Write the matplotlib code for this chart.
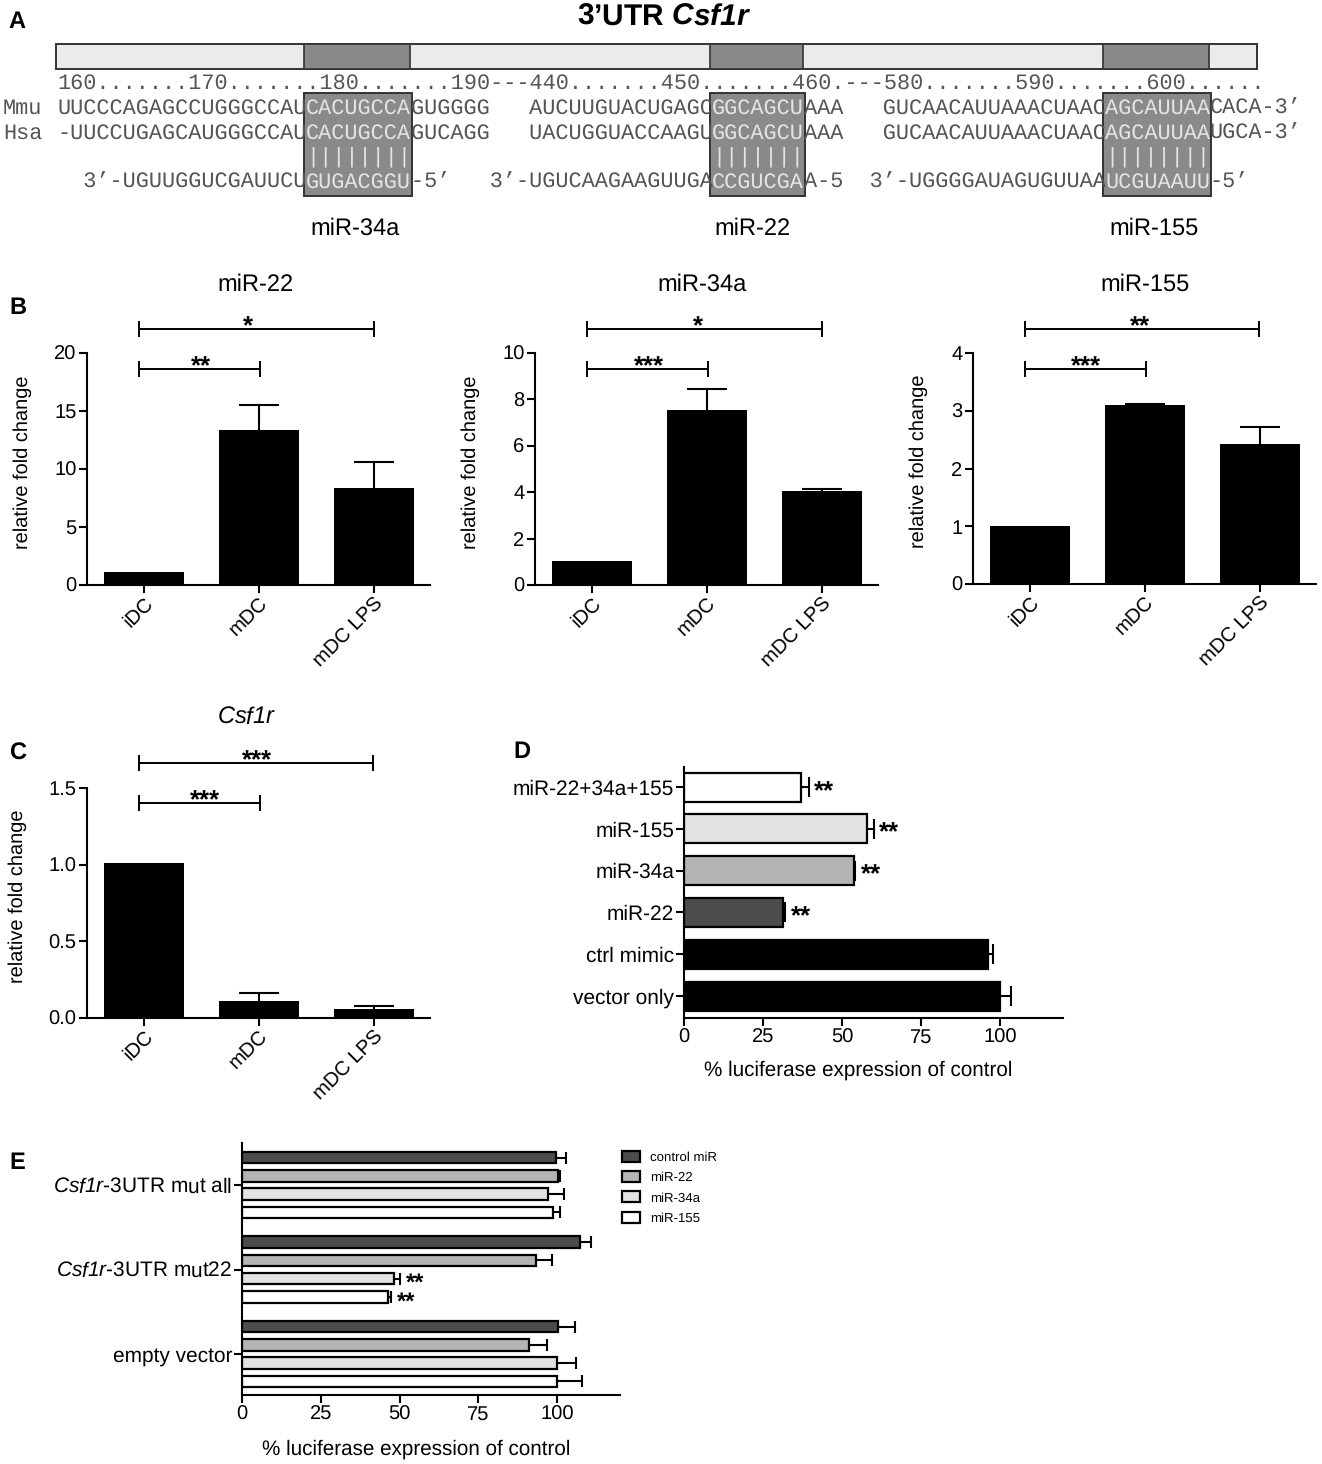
import numpy as np
import matplotlib
matplotlib.use("Agg")
import matplotlib.pyplot as plt
from matplotlib.patches import Rectangle, Patch

plt.rcParams['font.family'] = ['Liberation Sans', 'DejaVu Sans']
plt.rcParams['mathtext.fontset'] = 'custom'
# digits in \mathit fall back to rm, so rm is italic too (1 in Csf1r)
plt.rcParams['mathtext.rm'] = 'Liberation Sans:italic'
plt.rcParams['mathtext.it'] = 'Liberation Sans:italic'
plt.rcParams['mathtext.bf'] = 'Liberation Sans:bold'
plt.rcParams['mathtext.bfit'] = 'Liberation Sans:italic:bold'
plt.rcParams['text.hinting'] = 'none'

W, H = 1322, 1464

# Panel A sequences
ruler = "160.......170.......180.......190---440.......450.......460.---580.......590.......600......"
mmu = "UUCCCAGAGCCUGGGCCAUCACUGCCAGUGGGG   AUCUUGUACUGAGCGGCAGCUAAA   GUCAACAUUAAACUAACAGCAUUAACACA-3’"
hsa = "-UUCCUGAGCAUGGGCCAUCACUGCCAGUCAGG   UACUGGUACCAAGUGGCAGCUAAA   GUCAACAUUAAACUAACAGCAUUAAUGCA-3’"
pairs = "                   ||||||||                       |||||||                       ||||||||"
mirs = "  3’-UGUUGGUCGAUUCUGUGACGGU-5’   3’-UGUCAAGAAGUUGACCGUCGAA-5  3’-UGGGGAUAGUGUUAAUCGUAAUU-5’"
site_chars = [(19, 27), (50, 57), (80, 88)]
site_names = ["miR-34a", "miR-22", "miR-155"]

# Panels B, C
cats = ["iDC", "mDC", "mDC LPS"]
mir22 = [1.1, 13.4, 8.4]
mir22_err = [0, 2.1, 2.2]
mir34a = [1.05, 7.55, 4.05]
mir34a_err = [0, 0.9, 0.1]
mir155 = [1.0, 3.1, 2.42]
mir155_err = [0, 0.01, 0.3]
csf1r = [1.01, 0.11, 0.06]
csf1r_err = [0, 0.05, 0.02]

# Panel D (top to bottom)
d_cats = ["miR-22+34a+155", "miR-155", "miR-34a", "miR-22", "ctrl mimic", "vector only"]
d_vals = [37, 57.8, 53.9, 31.3, 96.3, 100.2]
d_err = [2.5, 2.2, 0.3, 0.7, 1.6, 3.3]
d_stars = ["**", "**", "**", "**", "", ""]
d_cols = ["white", "#e2e2e2", "#b4b4b4", "#4c4c4c", "black", "black"]

# Panel E
e_groups = [r"$\mathit{Csf1r}$-3UTR mut all", r"$\mathit{Csf1r}$-3UTR mut22", "empty vector"]
e_series = ["control miR", "miR-22", "miR-34a", "miR-155"]
e_cols = ["#4c4c4c", "#b4b4b4", "#e2e2e2", "white"]
e_vals = [[99.8, 107.2, 100.2],
          [100.3, 93.4, 91],
          [97, 48.4, 100],
          [98.8, 46.2, 100]]
e_err = [[3.2, 3.6, 5.4],
         [0.5, 5.1, 5.8],
         [5.3, 1.6, 6],
         [2.2, 1.0, 8]]
e_stars = [["", "", ""], ["", "", ""], ["", "**", ""], ["", "**", ""]]

fig = plt.figure(figsize=(W / 100, H / 100), dpi=100)


def px_axes(x0, y0, x1, y1):
    return fig.add_axes([x0 / W, 1 - y1 / H, (x1 - x0) / W, (y1 - y0) / H])


def style(ax):
    ax.spines['top'].set_visible(False)
    ax.spines['right'].set_visible(False)
    ax.spines['left'].set_linewidth(1.5)
    ax.spines['bottom'].set_linewidth(1.5)
    ax.tick_params(width=1.5, length=5.5, labelsize=14.5, pad=2)


# overlay in pixel coords for annotations
ov = fig.add_axes([0, 0, 1, 1], zorder=5)
ov.set_xlim(0, W)
ov.set_ylim(H, 0)
ov.axis('off')

char_w = 13.1
x_start = 57
mono = 15.72


def cx(i):
    return x_start + i * char_w


def seq_row(s, y, col="#555555"):
    # split so the part inside a site box comes out white
    cuts = [0] + [c for site in site_chars for c in site] + [len(s)]
    for k in range(len(cuts) - 1):
        seg = s[cuts[k]:cuts[k + 1]]
        if seg.strip() == "":
            continue
        inside = k % 2 == 1
        ov.text(cx(cuts[k]), y, seg, family='Liberation Mono', fontsize=mono,
                color="#e4e4e4" if inside else col, ha='left', va='baseline', zorder=3)


# gene bar
ov.add_patch(Rectangle((56, 44), 1201, 25, fc="#ebebeb", ec="#333333", lw=1.4, zorder=1))
for a, b in site_chars:
    ov.add_patch(Rectangle((cx(a) - 2, 44), cx(b) - cx(a) + 1, 25, fc="#8a8a8a", ec="#333333", lw=1.2, zorder=2))
    ov.add_patch(Rectangle((cx(a) - 2, 93), cx(b) - cx(a) + 3, 103, fc="#8a8a8a", ec="#333333", lw=1.4, zorder=2))

ov.text(cx(0), 89, ruler, family='Liberation Mono', fontsize=mono, color="#555555", ha='left', va='baseline')
seq_row(mmu, 114)
seq_row(hsa, 139)
seq_row(pairs, 163)
seq_row(mirs, 188)
ov.text(3, 114, "Mmu", family='Liberation Mono', fontsize=mono, color="#555555", va='baseline')
ov.text(3, 139, "Hsa", family='Liberation Mono', fontsize=mono, color="#555555", va='baseline')
for name, xc in zip(site_names, [355, 753, 1154]):
    ov.text(xc, 229, name, fontsize=17, ha='center', va='center')
ov.text(664, 18, r"3’UTR $\mathbfit{Csf1r}$", fontsize=21.5, fontweight='bold', ha='center', va='center')

for letter, lx, ly in [("A", 17, 22), ("B", 18, 308), ("C", 18, 754), ("D", 522, 752), ("E", 17, 1163)]:
    ov.text(lx, ly, letter, fontsize=17, fontweight='bold', ha='center', va='center')


def bracket(x0, x1, y, label, xs):
    ov.plot([x0, x1], [y, y], color='k', lw=1.4)
    ov.plot([x0, x0], [y - 7, y + 7], color='k', lw=1.4)
    ov.plot([x1, x1], [y - 7, y + 7], color='k', lw=1.4)
    ov.text(xs, y - 2, label, fontsize=18.5, fontweight='bold', ha='center', va='center')


def bar_panel(box, centre0, vals, errs, ymax, yticks, title, title_x, title_y, ylab_x, ticklabels=None):
    x0, y0, x1, y1 = box
    step = 115.0
    ax = px_axes(x0, y0, x1, y1)
    xs = np.arange(3)
    vals = np.array(vals)
    errs = np.array(errs)
    ax.bar(xs, vals, width=80 / step, color='k')
    # upper whiskers only
    has = errs > 0
    ax.vlines(xs[has], vals[has], (vals + errs)[has], color='k', lw=1.5)
    ax.plot(xs[has], (vals + errs)[has], '_', color='k', ms=29, mew=1.5)
    ax.set_xlim((x0 - centre0) / step, (x1 - centre0) / step)
    ax.set_ylim(0, ymax)
    ax.set_yticks(yticks)
    if ticklabels:
        ax.set_yticklabels(ticklabels)
    ax.set_xticks(xs)
    ax.set_xticklabels(cats, rotation=45, ha='right', rotation_mode='anchor')
    style(ax)
    ax.tick_params(axis='x', labelsize=14.5, pad=1)
    ax.set_ylabel("relative fold change", fontsize=14.4)
    ax.yaxis.set_label_coords((ylab_x - x0) / (x1 - x0), 0.53)
    ov.text(title_x, title_y, title, fontsize=17, ha='center', va='center')
    return ax


bar_panel((87, 353, 430, 585), 144, mir22, mir22_err, 20, [0, 5, 10, 15, 20], "miR-22", 256, 285, 32)
bar_panel((535, 353, 878, 585), 592, mir34a, mir34a_err, 10, [0, 2, 4, 6, 8, 10], "miR-34a", 702, 285, 480)
bar_panel((973, 353, 1316, 584), 1030, mir155, mir155_err, 4, [0, 1, 2, 3, 4], "miR-155", 1145, 285, 928)
bar_panel((87, 788, 430, 1018), 144, csf1r, csf1r_err, 1.5, [0, 0.5, 1.0, 1.5], r"$\mathit{Csf1r}$", 247, 718, 27,
          ["0.0", "0.5", "1.0", "1.5"])

bracket(139, 374, 329, "*", 248)
bracket(139, 260, 369, "**", 201)
bracket(587, 822, 329, "*", 698)
bracket(587, 708, 369, "***", 649)
bracket(1025, 1259, 329, "**", 1140)
bracket(1025, 1146, 369, "***", 1086)
bracket(139, 373, 763, "***", 257)
bracket(139, 260, 803, "***", 205)

# Panel D
ax_d = px_axes(684, 767, 1063, 1018)
step_d = 41.8
ypos = np.arange(len(d_cats))
d_ends = np.array(d_vals) + np.array(d_err)
ax_d.barh(ypos, d_vals, height=29 / step_d, color=d_cols, edgecolor='k', linewidth=1.6)
ax_d.hlines(ypos, d_vals, d_ends, color='k', lw=1.5)
ax_d.plot(d_ends, ypos, '|', color='k', ms=15, mew=1.5)
for y, v, e, s in zip(ypos, d_vals, d_err, d_stars):
    if s:
        ax_d.text(v + e + 1.7, y + 0.12, s, fontsize=18.5, fontweight='bold', va='center', ha='left')
ax_d.set_xlim(0, 120)
ax_d.set_ylim(5 + 22 / step_d, -20 / step_d)
ax_d.set_yticks(ypos)
ax_d.set_yticklabels(d_cats)
ax_d.set_xticks([0, 25, 50, 75, 100])
style(ax_d)
ax_d.tick_params(axis='y', labelsize=15, pad=1.5)
ax_d.set_xlabel("% luciferase expression of control", fontsize=14.9)
ax_d.xaxis.set_label_coords((858 - 684) / (1063 - 684), -(1070 - 1018) / (1018 - 767), transform=ax_d.transAxes)
ax_d.xaxis.label.set_va('center')

# Panel E
ax_e = px_axes(242, 1143, 620, 1395)
step_g = 84.5
step_b = 18.3 / step_g
gpos = np.arange(3)
for i, name in enumerate(e_series):
    y = gpos + (i - 1.5) * step_b
    ends = np.array(e_vals[i]) + np.array(e_err[i])
    ax_e.barh(y, e_vals[i], height=11.5 / step_g, color=e_cols[i], edgecolor='k', linewidth=1.6, label=name)
    ax_e.hlines(y, e_vals[i], ends, color='k', lw=1.5)
    ax_e.plot(ends, y, '|', color='k', ms=8, mew=1.5)
    for yy, v, e, s in zip(y, e_vals[i], e_err[i], e_stars[i]):
        if s:
            ax_e.text(v + e + 2, yy + 0.06, s, fontsize=17, fontweight='bold', va='center', ha='left')
ax_e.set_xlim(0, 120)
ax_e.set_ylim((1395 - 1185) / step_g, (1143 - 1185) / step_g)
ax_e.set_yticks(gpos)
ax_e.set_yticklabels(e_groups)
ax_e.set_xticks([0, 25, 50, 75, 100])
style(ax_e)
ax_e.tick_params(axis='y', labelsize=15, pad=1.5)
ax_e.set_xlabel("% luciferase expression of control", fontsize=14.9)
ax_e.xaxis.set_label_coords((416 - 242) / (620 - 242), -(1449 - 1395) / (1395 - 1143), transform=ax_e.transAxes)
ax_e.xaxis.label.set_va('center')

handles = [Patch(fc=c, ec='k', lw=1.6, label=n) for c, n in zip(e_cols, e_series)]
fig.legend(handles=handles, loc='upper left', bbox_to_anchor=(610 / W, 1 - 1139 / H), frameon=False,
           fontsize=9.5, handlelength=1.36, handleheight=0.9, labelspacing=0.57, handletextpad=0.75)

fig.savefig("out.png", dpi=100)
